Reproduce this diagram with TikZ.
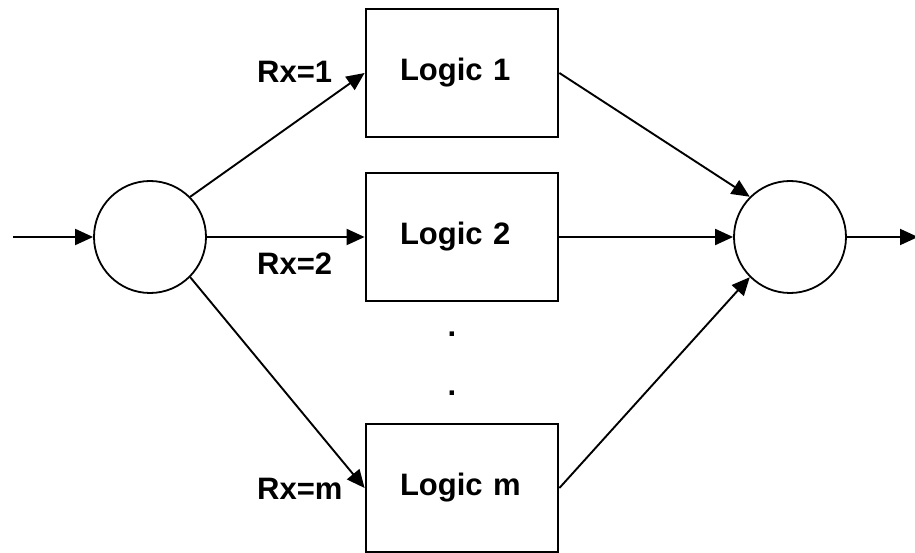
\documentclass[tikz,border=0pt]{standalone}
\usepackage{fontspec}
\setmainfont{Liberation Sans}
\usetikzlibrary{arrows.meta}

\tikzset{
  logicbox/.style={draw, line width=2.8pt, minimum width=192pt, minimum height=128pt,
    inner sep=0pt, text width=124pt, align=left,
    font=\fontsize{31}{36}\selectfont\bfseries},
  junction/.style={draw, circle, line width=1.8pt, minimum size=112pt, inner sep=0pt},
  flow/.style={line width=1.9pt, -{Triangle[length=18pt, width=16pt]}},
  rxlabel/.style={anchor=base west, inner sep=0pt, font=\fontsize{31}{36}\selectfont\bfseries},
  gapdot/.style={anchor=base, inner sep=0pt, font=\fontsize{31}{36}\selectfont\bfseries}
}

\begin{document}
\begin{tikzpicture}[x=1pt, y=-1pt]
  \useasboundingbox (0,0) rectangle (915,553);

  % splitter and merger
  \node[junction] (split) at (150,237) {};
  \node[junction] (merge) at (790,237) {};

  % logic blocks
  \node[logicbox] (l1) at (462,73) {Logic 1};
  \node[logicbox] (l2) at (462,237) {Logic 2};
  \node[logicbox] (lm) at (462,488) {Logic m};

  % vertical ellipsis between block 2 and block m
  \node[gapdot] (d1) at (452,336) {.};
  \node[gapdot] (d2) at (452,395) {.};

  % input and output
  \coordinate (in) at (13,237);
  \coordinate (out) at (918,237);
  \draw[flow] (in) -- (split.west);
  \draw[flow] (merge.east) -- (out);

  % fan-out
  \draw[flow] (split.45) -- (l1.west);
  \draw[flow] (split.east) -- (l2.west);
  \draw[flow] (split.-45) -- (lm.west);

  % fan-in
  \draw[flow] (l1.east) -- (merge.135);
  \draw[flow] (l2.east) -- (merge.west);
  \draw[flow] (lm.east) -- (merge.225);

  % selector labels
  \node[rxlabel] (rx1) at (257,83) {Rx=1};
  \node[rxlabel] (rx2) at (257,274) {Rx=2};
  \node[rxlabel] (rxm) at (257,499) {Rx=m};
\end{tikzpicture}
\end{document}
